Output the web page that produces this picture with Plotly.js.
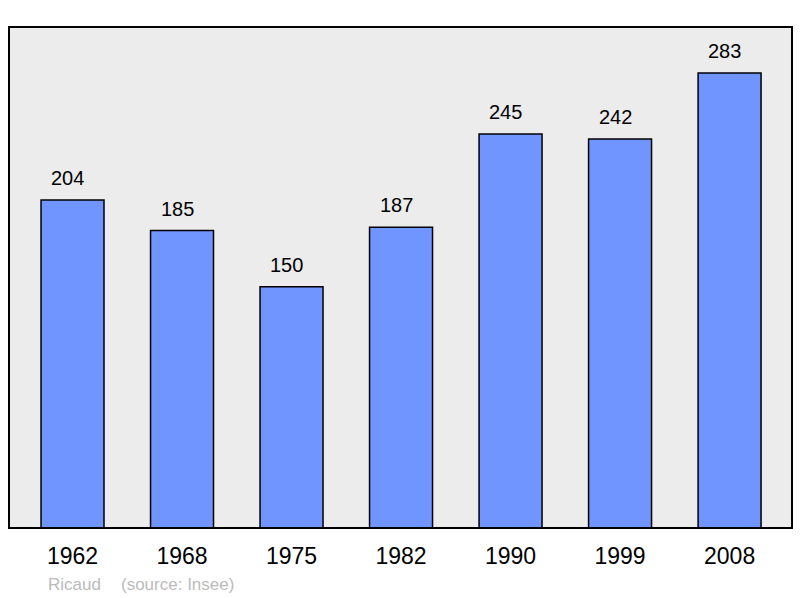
<!DOCTYPE html>
<html>
<head>
<meta charset="utf-8">
<script src="https://cdn.plot.ly/plotly-3.0.1.min.js"></script>
<style>
  html, body { margin: 0; padding: 0; background: #fff; }
  #chart { width: 800px; height: 598px; }
</style>
</head>
<body>
<div id="chart"></div>
<script>
// census years and population
var years = ['1962', '1968', '1975', '1982', '1990', '1999', '2008'];
var population = [204, 185, 150, 187, 245, 242, 283];

var commune = 'Ricaud';
var source = '(source: Insee)';

var bars = {
  x: years,
  y: population,
  type: 'bar',
  width: 0.575,
  marker: {
    color: '#7095ff',
    line: {color: '#000', width: 1.5}
  },
  hoverinfo: 'none'
};

// value labels above each bar (x given as category index)
var labels = years.map(function (yr, i) {
  return {
    x: i, y: population[i],
    xref: 'x', yref: 'y',
    text: String(population[i]),
    showarrow: false,
    yanchor: 'middle',
    yshift: 22,
    xshift: -5,
    font: {family: 'Liberation Sans, Arial, sans-serif', size: 20, color: '#000'}
  };
});

labels.push({
  xref: 'paper', yref: 'paper', x: 0.047, y: -0.113,
  xanchor: 'left', yanchor: 'middle', showarrow: false,
  text: commune,
  font: {family: 'Liberation Sans, Arial, sans-serif', size: 17, color: '#bbbbbb'}
});
labels.push({
  xref: 'paper', yref: 'paper', x: 0.141, y: -0.113,
  xanchor: 'left', yanchor: 'middle', showarrow: false,
  text: source,
  font: {family: 'Liberation Sans, Arial, sans-serif', size: 17, color: '#bbbbbb'}
});

var layout = {
  width: 800,
  height: 598,
  margin: {l: 9, r: 8, t: 27, b: 70, pad: 0},
  paper_bgcolor: '#ffffff',
  plot_bgcolor: '#ececec',
  showlegend: false,
  xaxis: {
    type: 'category',
    range: [-0.58, 6.57],
    showgrid: false,
    zeroline: false,
    showline: false,
    ticks: '',
    ticklabelstandoff: 12,
    tickfont: {family: 'Liberation Sans, Arial, sans-serif', size: 23, color: '#000'}
  },
  yaxis: {
    range: [0, 311.6],
    showgrid: false,
    zeroline: false,
    showline: false,
    showticklabels: false,
    ticks: ''
  },
  shapes: [{
    type: 'rect', xref: 'paper', yref: 'paper',
    x0: 0, x1: 1, y0: 0, y1: 1,
    line: {color: '#000', width: 2},
    layer: 'above'
  }],
  annotations: labels
};

Plotly.newPlot('chart', [bars], layout, {staticPlot: true});
</script>
</body>
</html>
